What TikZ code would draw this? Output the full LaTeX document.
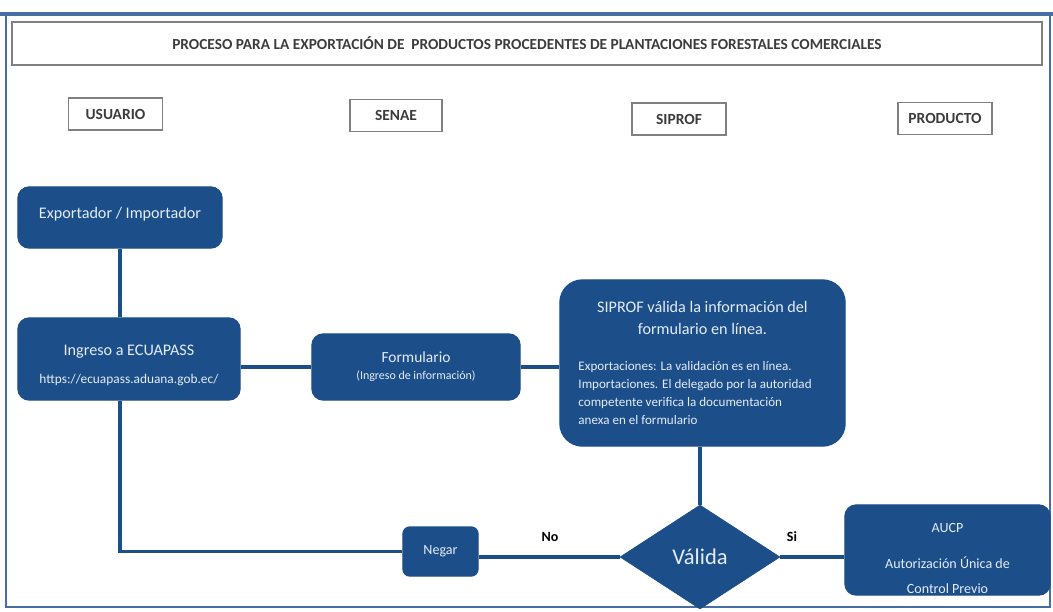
\documentclass[tikz,border=0pt]{standalone}
\usepackage{fontspec}
\setmainfont{Carlito}
\usetikzlibrary{positioning,shapes.geometric}

\definecolor{boxblue}{RGB}{28,78,137}
\definecolor{frameblue}{RGB}{70,110,165}
\definecolor{boxtext}{RGB}{228,236,246}
\definecolor{headgray}{RGB}{60,60,60}

\begin{document}
\begin{tikzpicture}[x=0.025cm,y=-0.025cm,
  proc/.style={draw=boxblue, fill=boxblue, rounded corners=8pt, text=boxtext, align=center, line width=1pt},
  head/.style={draw=gray, line width=1.2pt, text=headgray, font=\fontsize{11}{13}\selectfont\bfseries, minimum height=0.8cm, minimum width=2.35cm},
  link/.style={draw=boxblue, line width=2.4pt}]

  % Fix page size
  \useasboundingbox (0,0) rectangle (1053,612);

  % Outer frame
  \draw[frameblue, line width=1.5pt] (6,14) rectangle (1050,607);
  \draw[frameblue, line width=3pt] (0,14) -- (1053,14);

  % Title
  \node[draw=gray, line width=1pt, minimum width=25.75cm, minimum height=1.075cm, text=headgray,
        font=\fontsize{10.9}{12}\selectfont\bfseries] (title) at (527,43.5)
        {PROCESO PARA LA EXPORTACIÓN DE \ PRODUCTOS PROCEDENTES DE PLANTACIONES FORESTALES COMERCIALES};

  % Column headers
  \node[head] (usuario) at (115.5,114) {USUARIO};
  \node[head, minimum width=2.3cm] (senae) at (396,115.5) {SENAE};
  \node[head] (siprof) at (679,119) {SIPROF};
  \node[head] (producto) at (945,118.5) {PRODUCTO};

  % Process boxes
  \node[proc, minimum width=5.1cm, minimum height=1.525cm, font=\fontsize{11.5}{14}\selectfont] (expo) at (120,217.5)
    {Exportador / Importador\rule[-6pt]{0pt}{6pt}};
  \node[proc, minimum width=5.55cm, minimum height=2.05cm] (ingreso) at (129,359)
    {{\fontsize{11.5}{14}\selectfont\rule{0pt}{17pt}Ingreso a ECUAPASS}\\[8pt]{\fontsize{9.5}{12}\selectfont https://ecuapass.aduana.gob.ec/}};
  \node[proc, minimum width=5.2cm, minimum height=1.65cm] (formulario) at (416,367)
    {{\fontsize{11}{13}\selectfont Formulario}\\{\fontsize{8.5}{10}\selectfont (Ingreso de información)}};
  \node[proc, minimum width=7.125cm, minimum height=4.15cm, rounded corners=16pt] (validacion) at (702.5,363)
    {\parbox{6.6cm}{\centering\fontsize{11.5}{15.5}\selectfont SIPROF válida la información del\\ formulario en línea.}\\[18pt]
     \parbox{6.2cm}{\raggedright\fontsize{9.3}{12.8}\selectfont Exportaciones: La validación es en línea.\\
      Importaciones. El delegado por la autoridad\\
      competente verifica la documentación\\
      anexa en el formulario}};

  % Decision
  \node[diamond, fill=boxblue, draw=boxblue, text=boxtext, aspect=1.54, minimum width=4cm, minimum height=2.6cm,
        inner sep=0pt, font=\fontsize{16}{18}\selectfont] (valida) at (700,557) {Válida};
  \node[proc, rounded corners=5pt, minimum width=1.875cm, minimum height=1.225cm, font=\fontsize{10}{12}\selectfont] (negar) at (440.5,551.5) {Negar};
  \node[proc, minimum width=5.125cm, minimum height=2.25cm, inner ysep=0pt, font=\fontsize{10}{12}\selectfont] (aucp) at (947.5,550)
    {\rule{0pt}{18pt}AUCP\\[13.6pt]Autorización Única de\\[5.8pt]Control Previo};

  % Labels
  \node[font=\fontsize{10}{12}\selectfont\bfseries] (no) at (550,537) {No};
  \node[font=\fontsize{10}{12}\selectfont\bfseries] (si) at (792,537) {Si};

  % Connectors
  \draw[link] (expo.south) -- (expo.south |- ingreso.north);
  \draw[link] (formulario.west -| ingreso.east) -- (formulario.west);
  \draw[link] (formulario.east) -- (formulario.east -| validacion.west);
  \draw[link] (valida.north |- validacion.south) -- (valida.north);
  \draw[link] (valida.west) -- (valida.west -| negar.east);
  \draw[link] (valida.east) -- (valida.east -| aucp.west);
  \draw[link] (ingreso.south -| expo.south) |- (negar.west);

\end{tikzpicture}
\end{document}
